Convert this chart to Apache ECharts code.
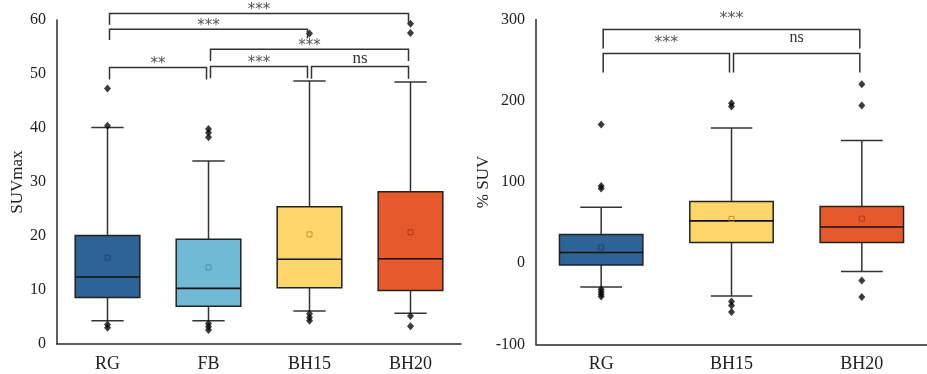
<!DOCTYPE html>
<html><head><meta charset="utf-8">
<script src="https://cdn.jsdelivr.net/npm/echarts@6/dist/echarts.min.js"></script>
<style>html,body{margin:0;padding:0;background:#fff}#c{width:927px;height:374px}</style>
</head><body><div id="c"></div>
<script>
// ---------- Left panel: SUVmax ----------
const catsL = ['RG', 'FB', 'BH15', 'BH20'];
const yTicksL = [0, 10, 20, 30, 40, 50, 60];
const whiskerLowL = [4.3, 4.3, 6.1, 5.7];
const q1L = [8.6, 7.0, 10.4, 9.9];
const medianL = [12.4, 10.3, 15.7, 15.8];
const q3L = [20.1, 19.4, 25.4, 28.2];
const whiskerHighL = [40.1, 33.9, 48.7, 48.5];
const meanL = [16.0, 14.2, 20.3, 20.7];
const outliersL = [
  [0, 47.3], [0, 40.4], [0, 3.6], [0, 3.0],
  [1, 39.8], [1, 39.1], [1, 38.3], [1, 3.8], [1, 3.2], [1, 2.6],
  [2, 60.4], [2, 57.5], [2, 5.6], [2, 4.9], [2, 4.3],
  [3, 59.3], [3, 57.6], [3, 5.2], [3, 3.3]
];
// [fromCat, toCat, barValue, leftLegEnd, rightLegEnd, label]
const bracketsL = [
  [0, 3, 61.2, 59.1, 59.4, '***'],
  [0, 2, 58.3, 56.3, 56.6, '***'],
  [1, 3, 54.6, 52.4, 52.4, '***'],
  [0, 1, 51.2, 49.0, 49.0, '**'],
  [1, 2, 51.4, 49.2, 49.2, '***'],
  [2, 3, 51.4, 49.1, 49.1, 'ns']
];

// ---------- Right panel: % SUV ----------
const catsR = ['RG', 'BH15', 'BH20'];
const yTicksR = [-100, 0, 100, 200, 300];
const whiskerLowR = [-29.2, -40.2, -10.2];
const q1R = [-2.1, 25.5, 25.5];
const medianR = [13.2, 52.1, 44.7];
const q3R = [35.3, 75.9, 69.7];
const whiskerHighR = [68.9, 166.5, 151.0];
const meanR = [19.3, 54.6, 55.0];
const outliersR = [
  [0, 170.7], [0, 95.2], [0, 92.0], [0, -32], [0, -35], [0, -38], [0, -41],
  [1, 197], [1, 193], [1, -47], [1, -52], [1, -60],
  [2, 220.3], [2, 194.1], [2, -21.3], [2, -41.5]
];
const bracketsR = [
  [0, 2, 287.6, 264.2, 264.2, '***'],
  [0, 1, 258.1, 234.7, 234.7, '***'],
  [1, 2, 258.1, 234.7, 234.7, 'ns']
];

// ---------- styles ----------
const FONT = "'Liberation Serif', 'Times New Roman', serif";
const STARFONT = "'DejaVu Sans', sans-serif";
const TXT = '#222';
const fillL = ['#2E6395', '#71BAD6', '#FCD56B', '#E5592D'];
const meanColL = ['#1a3f66', '#3f88aa', '#b08a2a', '#9e3518'];
const fillR = ['#2E6395', '#FCD56B', '#E5592D'];
const meanColR = ['#1a3f66', '#b08a2a', '#9e3518'];

function boxRender(fills) {
  return function (params, api) {
    const c = api.value(0);
    const p = k => api.coord([c, api.value(k)]);
    const lo = p(1), b1 = p(2), md = p(3), b3 = p(4), hi = p(5);
    const band = api.size([1, 0])[0];
    const hw = band * 0.32, cw = hw / 2, x = lo[0];
    const ws = { stroke: '#333', lineWidth: 1.5 };
    return { type: 'group', children: [
      { type: 'line', shape: { x1: x, y1: hi[1], x2: x, y2: b3[1] }, style: ws },
      { type: 'line', shape: { x1: x, y1: b1[1], x2: x, y2: lo[1] }, style: ws },
      { type: 'line', shape: { x1: x - cw, y1: hi[1], x2: x + cw, y2: hi[1] }, style: ws },
      { type: 'line', shape: { x1: x - cw, y1: lo[1], x2: x + cw, y2: lo[1] }, style: ws },
      { type: 'rect', shape: { x: x - hw, y: b3[1], width: 2 * hw, height: b1[1] - b3[1] },
        style: { fill: fills[params.dataIndex], stroke: '#222', lineWidth: 1.5 } },
      { type: 'line', shape: { x1: x - hw, y1: md[1], x2: x + hw, y2: md[1] },
        style: { stroke: '#111', lineWidth: 1.6 } }
    ] };
  };
}

function bracketRender(list, starOff, nsOff, starSize, nsSize) {
  return function (params, api) {
    const x1 = api.coord([api.value(0), 0])[0] + 2;
    const x2 = api.coord([api.value(1), 0])[0] - 2;
    const yb = api.coord([0, api.value(2)])[1];
    const yl = api.coord([0, api.value(3)])[1];
    const yr = api.coord([0, api.value(4)])[1];
    const label = list[params.dataIndex][5];
    const isNs = label === 'ns';
    return { type: 'group', children: [
      { type: 'polyline', shape: { points: [[x1, yl], [x1, yb], [x2, yb], [x2, yr]] },
        style: { stroke: '#333', lineWidth: 1.5, fill: null } },
      { type: 'text', x: (x1 + x2) / 2, y: yb - (isNs ? nsOff : starOff),
        style: { text: label, align: 'center', verticalAlign: 'middle',
          fontSize: isNs ? nsSize : starSize, fontFamily: isNs ? FONT : STARFONT,
          fill: isNs ? '#333' : '#555' } }
    ] };
  };
}

function boxData(lo, a, m, b, hi) {
  return lo.map((v, i) => [i, v, a[i], m[i], b[i], hi[i]]);
}

const chart = echarts.init(document.getElementById('c'), null, { renderer: 'canvas' });

const axisCommonX = {
  type: 'category',
  axisLine: { show: true, onZero: false, lineStyle: { color: '#2a2a2a', width: 1.5 } },
  axisTick: { show: false },
  axisLabel: { fontSize: 18, fontFamily: FONT, color: TXT, margin: 11 },
  splitLine: { show: false }
};
const axisCommonY = {
  type: 'value',
  axisLine: { show: true, onZero: false, lineStyle: { color: '#2a2a2a', width: 1.5 } },
  axisTick: { show: false },
  splitLine: { show: false },
  nameLocation: 'middle',
  nameRotate: 90,
  nameTextStyle: { fontSize: 17, fontFamily: FONT, color: TXT }
};

chart.setOption({
  animation: false,
  backgroundColor: '#fff',
  grid: [
    { left: 57, top: 20, width: 404, height: 324 },
    { left: 536, top: 19.5, width: 402, height: 325 }
  ],
  xAxis: [
    Object.assign({}, axisCommonX, { gridIndex: 0, data: catsL }),
    Object.assign({}, axisCommonX, { gridIndex: 1, data: catsR })
  ],
  yAxis: [
    Object.assign({}, axisCommonY, {
      gridIndex: 0, min: yTicksL[0], max: yTicksL[yTicksL.length - 1], interval: 10,
      name: 'SUVmax', nameGap: 31,
      axisLabel: { fontSize: 16, fontFamily: FONT, color: TXT, margin: 11 }
    }),
    Object.assign({}, axisCommonY, {
      gridIndex: 1, min: yTicksR[0], max: yTicksR[yTicksR.length - 1], interval: 100,
      name: '% SUV', nameGap: 42,
      axisLabel: { fontSize: 16, fontFamily: FONT, color: TXT, margin: 11 }
    })
  ],
  series: [
    { type: 'custom', xAxisIndex: 0, yAxisIndex: 0, z: 2, clip: false,
      renderItem: boxRender(fillL), encode: { x: 0, y: [1, 2, 3, 4, 5] },
      data: boxData(whiskerLowL, q1L, medianL, q3L, whiskerHighL) },
    { type: 'custom', xAxisIndex: 1, yAxisIndex: 1, z: 2, clip: false,
      renderItem: boxRender(fillR), encode: { x: 0, y: [1, 2, 3, 4, 5] },
      data: boxData(whiskerLowR, q1R, medianR, q3R, whiskerHighR) },
    { type: 'scatter', xAxisIndex: 0, yAxisIndex: 0, z: 4, symbol: 'rect', symbolSize: 5,
      data: meanL.map((v, i) => ({ value: [i, v], itemStyle: { color: 'rgba(0,0,0,0)', borderColor: meanColL[i], borderWidth: 1 } })) },
    { type: 'scatter', xAxisIndex: 1, yAxisIndex: 1, z: 4, symbol: 'rect', symbolSize: 5,
      data: meanR.map((v, i) => ({ value: [i, v], itemStyle: { color: 'rgba(0,0,0,0)', borderColor: meanColR[i], borderWidth: 1 } })) },
    { type: 'scatter', xAxisIndex: 0, yAxisIndex: 0, z: 5, symbol: 'diamond', symbolSize: [7, 8],
      clip: true, itemStyle: { color: '#0a0a0a' }, data: outliersL },
    { type: 'scatter', xAxisIndex: 1, yAxisIndex: 1, z: 5, symbol: 'diamond', symbolSize: [7, 8],
      clip: true, itemStyle: { color: '#0a0a0a' }, data: outliersR },
    { type: 'custom', xAxisIndex: 0, yAxisIndex: 0, z: 6, clip: false,
      renderItem: bracketRender(bracketsL, 3, 8, 15, 17), encode: { x: [0, 1], y: [2, 3, 4] },
      data: bracketsL.map(b => b.slice(0, 5)) },
    { type: 'custom', xAxisIndex: 1, yAxisIndex: 1, z: 6, clip: false,
      renderItem: bracketRender(bracketsR, 11, 16, 16, 16), encode: { x: [0, 1], y: [2, 3, 4] },
      data: bracketsR.map(b => b.slice(0, 5)) }
  ]
});
</script>
</body></html>
